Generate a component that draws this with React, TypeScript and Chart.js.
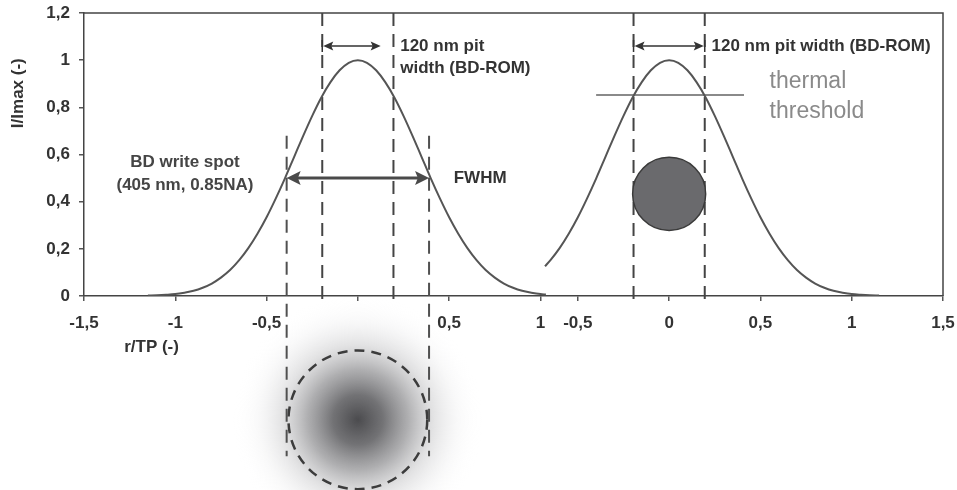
import { useEffect, useRef } from "react";
import { Chart, registerables } from "chart.js";

Chart.register(...registerables);

// ---- data ----
const leftX = [-1.15, -1.1, -1.05, -1, -0.95, -0.9, -0.85, -0.8, -0.75, -0.7, -0.65, -0.6, -0.55, -0.5, -0.45, -0.4, -0.35, -0.3, -0.25, -0.2, -0.15, -0.1, -0.05, 0, 0.05, 0.1, 0.15, 0.2, 0.25, 0.3, 0.35, 0.4, 0.45, 0.5, 0.55, 0.6, 0.65, 0.7, 0.75, 0.8, 0.85, 0.9, 0.95, 1, 1.03];
const leftY = [0.002, 0.003, 0.005, 0.008, 0.014, 0.022, 0.035, 0.053, 0.078, 0.11, 0.152, 0.203, 0.264, 0.334, 0.413, 0.498, 0.588, 0.678, 0.764, 0.842, 0.907, 0.957, 0.989, 1, 0.989, 0.957, 0.907, 0.842, 0.764, 0.678, 0.588, 0.498, 0.413, 0.334, 0.264, 0.203, 0.152, 0.11, 0.078, 0.053, 0.035, 0.022, 0.014, 0.008, 0.006];
const rightX = [-0.68, -0.65, -0.6, -0.55, -0.5, -0.45, -0.4, -0.35, -0.3, -0.25, -0.2, -0.15, -0.1, -0.05, 0, 0.05, 0.1, 0.15, 0.2, 0.25, 0.3, 0.35, 0.4, 0.45, 0.5, 0.55, 0.6, 0.65, 0.7, 0.75, 0.8, 0.85, 0.9, 0.95, 1, 1.05, 1.1, 1.15];
const rightY = [0.126, 0.152, 0.203, 0.264, 0.334, 0.413, 0.498, 0.588, 0.678, 0.764, 0.842, 0.907, 0.957, 0.989, 1, 0.989, 0.957, 0.907, 0.842, 0.764, 0.678, 0.588, 0.498, 0.413, 0.334, 0.264, 0.203, 0.152, 0.11, 0.078, 0.053, 0.035, 0.022, 0.014, 0.008, 0.005, 0.003, 0.002];

// the right panel shares the axis, shifted by this many units
const rightOffset = 1.705;

const leftTickValues = [-1.5, -1, -0.5, 0, 0.5, 1];
const leftTickLabels = ["-1,5", "-1", "-0,5", "", "0,5", "1"];
const rightTickValues = [-0.5, 0, 0.5, 1, 1.5];
const rightTickLabels = ["-0,5", "0", "0,5", "1", "1,5"];
const yTickValues = [0, 0.2, 0.4, 0.6, 0.8, 1, 1.2];
const yTickLabels = ["0", "0,2", "0,4", "0,6", "0,8", "1", "1,2"];

const pitEdges = [-0.195, 0.195];
const leftPitArrowEnd = 0.125;
const pitArrowLevel = 1.06;
const pitTextX = 0.232;
const pitTextLevels = [1.06, 0.967];
const fwhmEdges = [-0.39, 0.39];
const fwhmLevel = 0.5;
const fwhmTextX = 0.525;
const fwhmLineTop = 0.68;
const fwhmLineBottom = -0.68;
const spotLabelX = -0.947;
const spotLabelLevels = [0.568, 0.471];
const thresholdLevel = 0.852;
const thresholdSpan = [-0.4, 0.41];
const thermalTextX = 0.55;
const thermalTextLevels = [0.91, 0.78];
const markCenter = [0, 0.433];
const markRadius = 0.2;
const spotCenter = [0, -0.525];
const spotRadius = 0.38;

const FONT = '"Liberation Sans", Arial, sans-serif';

const allTickValues = [...leftTickValues, ...rightTickValues.map((v) => v + rightOffset)];
const allTickLabels = [...leftTickLabels, ...rightTickLabels];

function arrowHead(ctx: CanvasRenderingContext2D, x: number, y: number, dir: number, len: number, half: number) {
  ctx.beginPath();
  ctx.moveTo(x, y);
  ctx.lineTo(x - dir * len, y - half);
  ctx.lineTo(x - dir * len * 0.8, y);
  ctx.lineTo(x - dir * len, y + half);
  ctx.closePath();
  ctx.fill();
}

const overlay = {
  id: "overlay",
  beforeDatasetsDraw(chart: any) {
    const ctx: CanvasRenderingContext2D = chart.ctx;
    const xs = chart.scales.x;
    const ys = chart.scales.y;
    const px = (v: number) => xs.getPixelForValue(v);
    const py = (v: number) => ys.getPixelForValue(v);
    const ca = chart.chartArea;
    ctx.save();
    // frame top + right
    ctx.strokeStyle = "#444";
    ctx.lineWidth = 1.5;
    ctx.beginPath();
    ctx.moveTo(ca.left, ca.top);
    ctx.lineTo(ca.right, ca.top);
    ctx.lineTo(ca.right, ca.bottom);
    ctx.stroke();

    // gradient spot below axis
    const scx = px(spotCenter[0]);
    const scy = py(spotCenter[1]);
    const sr = px(spotRadius) - px(0);
    const g = ctx.createRadialGradient(scx, scy, 0, scx, scy, sr * 1.8);
    g.addColorStop(0, "rgba(75,75,78,1)");
    g.addColorStop(0.2, "rgba(95,95,98,0.88)");
    g.addColorStop(0.4, "rgba(125,125,128,0.62)");
    g.addColorStop(0.6, "rgba(165,165,168,0.32)");
    g.addColorStop(0.8, "rgba(205,205,208,0.12)");
    g.addColorStop(1, "rgba(255,255,255,0)");
    ctx.fillStyle = g;
    ctx.beginPath();
    ctx.arc(scx, scy, sr * 1.8, 0, Math.PI * 2);
    ctx.fill();
    ctx.setLineDash([10, 7]);
    ctx.lineWidth = 2.5;
    ctx.strokeStyle = "#3c3c3c";
    ctx.beginPath();
    ctx.arc(scx, scy, sr, 0, Math.PI * 2);
    ctx.stroke();

    // pit dashed lines (both panels)
    ctx.setLineDash([13, 8]);
    ctx.lineWidth = 2;
    ctx.strokeStyle = "#444";
    [0, rightOffset].forEach((off) => {
      pitEdges.forEach((e) => {
        ctx.beginPath();
        ctx.moveTo(px(e + off), py(1.2));
        ctx.lineTo(px(e + off), py(0) + 4);
        ctx.stroke();
      });
    });
    // FWHM dashed lines
    ctx.strokeStyle = "#505050";
    fwhmEdges.forEach((e) => {
      ctx.beginPath();
      ctx.moveTo(px(e), py(fwhmLineTop));
      ctx.lineTo(px(e), py(fwhmLineBottom));
      ctx.stroke();
    });
    ctx.setLineDash([]);

    // threshold line
    ctx.strokeStyle = "#8a8a8a";
    ctx.lineWidth = 2;
    ctx.beginPath();
    ctx.moveTo(px(thresholdSpan[0] + rightOffset), py(thresholdLevel));
    ctx.lineTo(px(thresholdSpan[1] + rightOffset), py(thresholdLevel));
    ctx.stroke();

    // grey mark
    ctx.fillStyle = "#6a6a6d";
    ctx.strokeStyle = "#3a3a3a";
    ctx.lineWidth = 1.5;
    ctx.beginPath();
    ctx.arc(px(markCenter[0] + rightOffset), py(markCenter[1]), px(markRadius) - px(0), 0, Math.PI * 2);
    ctx.fill();
    ctx.stroke();
    ctx.restore();
  },
  afterDatasetsDraw(chart: any) {
    const ctx: CanvasRenderingContext2D = chart.ctx;
    const xs = chart.scales.x;
    const ys = chart.scales.y;
    const px = (v: number) => xs.getPixelForValue(v);
    const py = (v: number) => ys.getPixelForValue(v);
    const ca = chart.chartArea;
    ctx.save();
    ctx.strokeStyle = "#333";
    ctx.fillStyle = "#333";
    ctx.lineWidth = 1.5;
    // left pit arrow
    const ay = py(pitArrowLevel);
    let x1 = px(pitEdges[0]);
    let x2 = px(leftPitArrowEnd);
    ctx.beginPath();
    ctx.moveTo(x1 + 4, ay);
    ctx.lineTo(x2 - 4, ay);
    ctx.moveTo(x1, ay - 6);
    ctx.lineTo(x1, ay + 6);
    ctx.stroke();
    arrowHead(ctx, x1 + 1, ay, -1, 10, 4.5);
    arrowHead(ctx, x2, ay, 1, 10, 4.5);
    // right pit arrow
    x1 = px(pitEdges[0] + rightOffset);
    x2 = px(pitEdges[1] + rightOffset);
    ctx.beginPath();
    ctx.moveTo(x1 + 4, ay);
    ctx.lineTo(x2 - 4, ay);
    ctx.moveTo(x1, ay - 6);
    ctx.lineTo(x1, ay + 6);
    ctx.moveTo(x2, ay - 6);
    ctx.lineTo(x2, ay + 6);
    ctx.stroke();
    arrowHead(ctx, x1 + 1, ay, -1, 10, 4.5);
    arrowHead(ctx, x2 - 1, ay, 1, 10, 4.5);

    // FWHM arrow
    ctx.strokeStyle = "#4a4a4a";
    ctx.fillStyle = "#4a4a4a";
    ctx.lineWidth = 3;
    const fy = py(fwhmLevel);
    const f1 = px(fwhmEdges[0]);
    const f2 = px(fwhmEdges[1]);
    ctx.beginPath();
    ctx.moveTo(f1 + 8, fy);
    ctx.lineTo(f2 - 8, fy);
    ctx.stroke();
    arrowHead(ctx, f1, fy, -1, 14, 7);
    arrowHead(ctx, f2, fy, 1, 14, 7);

    // texts
    ctx.fillStyle = "#333";
    ctx.font = `bold 17px ${FONT}`;
    ctx.textBaseline = "middle";
    ctx.textAlign = "left";
    ctx.fillText("120 nm pit", px(pitTextX), py(pitTextLevels[0]));
    ctx.fillText("width (BD-ROM)", px(pitTextX), py(pitTextLevels[1]));
    ctx.fillText("120 nm pit width (BD-ROM)", px(pitTextX + rightOffset), py(pitTextLevels[0]));
    ctx.fillText("FWHM", px(fwhmTextX), py(fwhmLevel));
    ctx.textAlign = "center";
    ctx.fillStyle = "#454545";
    ctx.fillText("BD write spot", px(spotLabelX), py(spotLabelLevels[0]));
    ctx.fillText("(405 nm, 0.85NA)", px(spotLabelX), py(spotLabelLevels[1]));
    // thermal threshold
    ctx.fillStyle = "#8a8a8a";
    ctx.font = `23px ${FONT}`;
    ctx.textAlign = "left";
    ctx.fillText("thermal", px(thermalTextX + rightOffset), py(thermalTextLevels[0]));
    ctx.fillText("threshold", px(thermalTextX + rightOffset), py(thermalTextLevels[1]));

    // axis titles
    ctx.fillStyle = "#333";
    ctx.font = `bold 17px ${FONT}`;
    ctx.textAlign = "center";
    ctx.fillText("r/TP (-)", px(-1.13), ca.bottom + 51);
    ctx.translate(18, py(0.86));
    ctx.rotate(-Math.PI / 2);
    ctx.fillText("I/Imax (-)", 0, 0);
    ctx.restore();
  },
};

export default function App() {
  const ref = useRef<HTMLCanvasElement | null>(null);
  useEffect(() => {
    if (!ref.current) return;
    const chart = new Chart(ref.current, {
      type: "line",
      data: {
        datasets: [
          {
            data: leftX.map((x, i) => ({ x, y: leftY[i] })),
            borderColor: "#555",
            borderWidth: 2,
            pointRadius: 0,
            fill: false,
            cubicInterpolationMode: "monotone",
          },
          {
            data: rightX.map((x, i) => ({ x: x + rightOffset, y: rightY[i] })),
            borderColor: "#555",
            borderWidth: 2,
            pointRadius: 0,
            fill: false,
            cubicInterpolationMode: "monotone",
          },
        ],
      },
      options: {
        animation: false,
        responsive: true,
        maintainAspectRatio: false,
        layout: { padding: { top: 13, right: 14, left: 0, bottom: 0 } },
        plugins: { legend: { display: false }, tooltip: { enabled: false } },
        scales: {
          x: {
            type: "linear",
            min: -1.5,
            max: 1.5 + rightOffset,
            afterBuildTicks: (s: any) => {
              s.ticks = allTickValues.map((v) => ({ value: v }));
            },
            afterFit: (s: any) => {
              s.height = 194;
              s.paddingLeft = 0;
              s.paddingRight = 0;
            },
            ticks: {
              autoSkip: false,
              maxRotation: 0,
              padding: 12,
              color: "#333",
              font: { family: FONT, size: 17, weight: "bold" },
              callback: (_v: any, i: number) => allTickLabels[i],
            },
            grid: { display: true, drawOnChartArea: false, drawTicks: true, tickLength: 5, color: "#555", lineWidth: 1.5 },
            border: { display: true, color: "#444", width: 1.5 },
          },
          y: {
            min: 0,
            max: 1.2,
            afterBuildTicks: (s: any) => {
              s.ticks = yTickValues.map((v) => ({ value: v }));
            },
            afterFit: (s: any) => {
              s.width = 84;
              s.paddingTop = 0;
              s.paddingBottom = 0;
            },
            ticks: {
              padding: 9,
              color: "#333",
              font: { family: FONT, size: 17, weight: "bold" },
              callback: (_v: any, i: number) => yTickLabels[i],
            },
            grid: { display: true, drawOnChartArea: false, drawTicks: true, tickLength: 5, color: "#555", lineWidth: 1.5 },
            border: { display: true, color: "#444", width: 1.5 },
          },
        },
      },
      plugins: [overlay],
    } as any);
    return () => chart.destroy();
  }, []);
  return (
    <div style={{ position: "fixed", left: 0, top: 0, width: 957, height: 490, background: "#fff" }}>
      <canvas ref={ref} />
    </div>
  );
}
